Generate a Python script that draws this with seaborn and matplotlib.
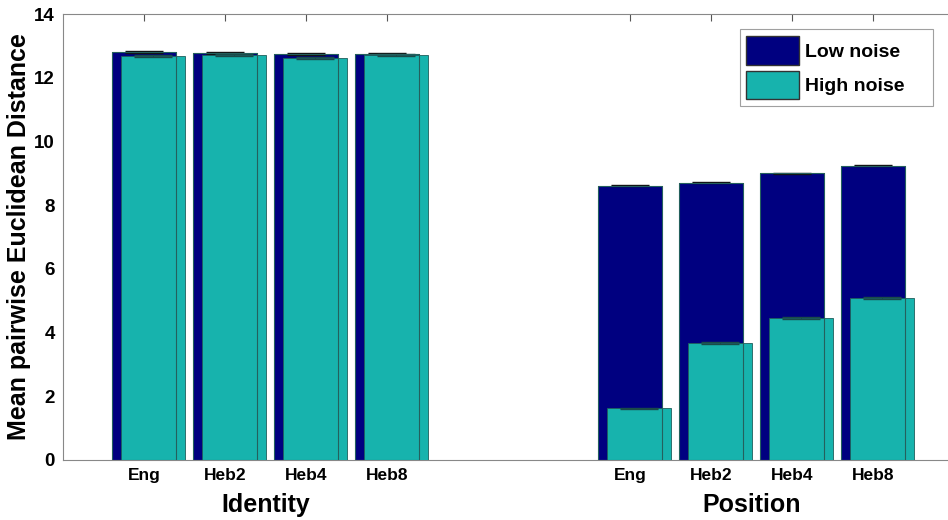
import numpy as np
import pandas as pd
import matplotlib
matplotlib.use("Agg")
import matplotlib.pyplot as plt
from matplotlib.patches import Patch
import seaborn as sns

# values
conditions = ["Eng", "Heb2", "Heb4", "Heb8", "Eng", "Heb2", "Heb4", "Heb8"]
positions = [1, 2, 3, 4, 7, 8, 9, 10]
groups = ["Identity", "Position"]
low_noise = [12.82, 12.78, 12.75, 12.76, 8.61, 8.71, 9.00, 9.24]
high_noise = [12.68, 12.71, 12.62, 12.72, 1.62, 3.67, 4.47, 5.08]
low_err = [0.03, 0.03, 0.03, 0.03, 0.02, 0.03, 0.02, 0.02]
high_err = [0.03, 0.03, 0.03, 0.03, 0.02, 0.02, 0.03, 0.03]

navy = "#000080"
teal = "#17b3ad"
offset = 0.11

sns.set_style("white")
plt.rcParams["font.family"] = ["Liberation Sans", "DejaVu Sans"]
plt.rcParams["font.weight"] = "bold"
plt.rcParams["text.color"] = "black"
plt.rcParams["axes.labelcolor"] = "black"
plt.rcParams["xtick.color"] = "black"
plt.rcParams["ytick.color"] = "black"

low_df = pd.DataFrame({"x": np.array(positions, float), "y": low_noise})
high_df = pd.DataFrame({"x": np.array(positions, float) + offset, "y": high_noise})

fig = plt.figure(figsize=(9.48, 5.2), dpi=100)
ax = fig.add_axes([63 / 948, 1 - 460 / 520, 891 / 948, 446 / 520])

sns.barplot(data=low_df, x="x", y="y", native_scale=True, color=navy,
            saturation=1, width=0.8, errorbar=None, edgecolor="#222222",
            linewidth=0.6, ax=ax, zorder=2)
ax.errorbar(low_df["x"], low_df["y"], yerr=low_err, fmt="none", ecolor="#111111",
            elinewidth=0.6, capsize=14, capthick=1.0, zorder=3)
sns.barplot(data=high_df, x="x", y="y", native_scale=True, color=teal,
            saturation=1, width=0.8, errorbar=None, edgecolor="#1f5f5c",
            linewidth=0.6, ax=ax, zorder=4)
ax.errorbar(high_df["x"], high_df["y"], yerr=high_err, fmt="none", ecolor="#1a4a48",
            elinewidth=0.6, capsize=14, capthick=1.0, zorder=5)
# outline of the low-noise bars showing through
ax.bar(positions, low_noise, width=0.8, fill=False, edgecolor="#24605d",
       linewidth=0.8, zorder=6)

ax.set_xlim(0, 11)
ax.set_ylim(0, 14)
ax.set_xticks(positions)
ax.set_xticklabels(conditions, fontsize=12.5, fontweight="bold")
ax.set_yticks(np.arange(0, 15, 2))
ax.set_yticklabels([str(v) for v in range(0, 15, 2)], fontsize=13.5, fontweight="bold")
ax.tick_params(direction="in", length=5, top=True, right=False, color="#555555", pad=6)
ax.tick_params(axis="x", pad=6)
for s in ax.spines.values():
    s.set_color("#888888")
    s.set_linewidth(0.8)
ax.set_xlabel("")
ax.set_ylabel("Mean pairwise Euclidean Distance", fontsize=18, fontweight="bold", labelpad=2)

for g, xs in zip(groups, [positions[:4], positions[4:]]):
    ax.text(np.mean(xs), -0.1, g, transform=ax.get_xaxis_transform(),
            ha="center", va="center", fontsize=18, fontweight="bold")

handles = [Patch(facecolor=navy, edgecolor="#333333", label="Low noise    "),
           Patch(facecolor=teal, edgecolor="#333333", label="High noise    ")]
leg = ax.legend(handles=handles, loc="upper right", bbox_to_anchor=(0.976, 0.966),
                borderaxespad=0, fancybox=False, frameon=True, handlelength=2.7,
                handleheight=1.9, prop={"weight": "bold", "size": 14},
                borderpad=0.35, labelspacing=0.3, handletextpad=0.3)
leg.get_frame().set_edgecolor("#888888")
leg.get_frame().set_linewidth(0.8)

fig.savefig("out.png", dpi=100)
